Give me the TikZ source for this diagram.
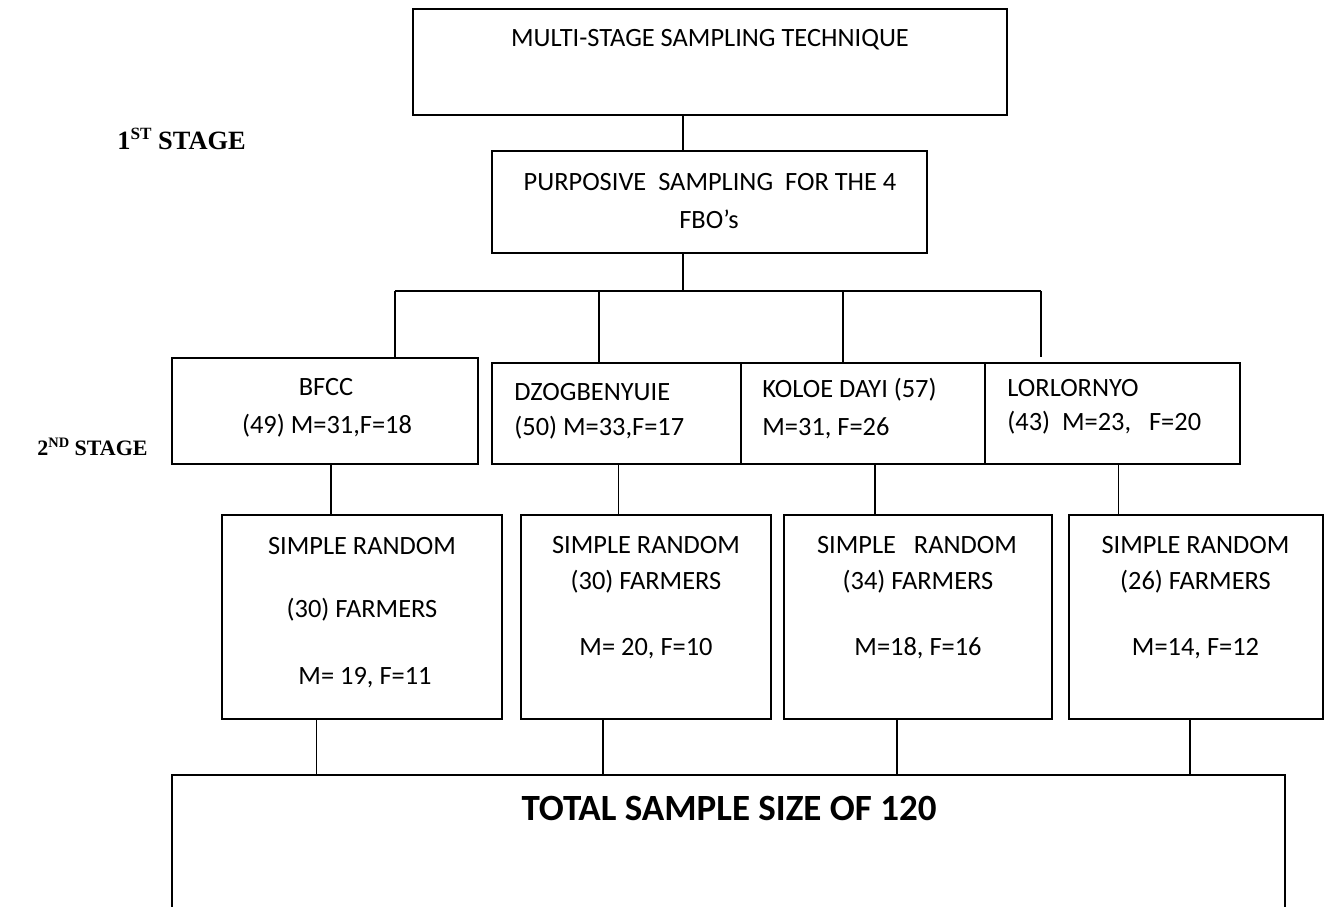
\documentclass[tikz,border=0pt]{standalone}
\usepackage{fontspec}
\setmainfont{Carlito}
\newfontfamily\stagefont{Liberation Serif}
\begin{document}
\begin{tikzpicture}[x=0.5pt, y=-0.5pt,
  box/.style={draw, line width=1pt, inner sep=0pt},
  link/.style={line width=0.75pt},
  lbl/.style={anchor=base, inner sep=0pt, font=\fontsize{13.2}{15.8}\selectfont},
  lft/.style={lbl, anchor=base west},
  stage/.style={anchor=base west, inner sep=0pt, font=\stagefont\bfseries\fontsize{13.2}{15.8}\selectfont}]
\useasboundingbox (0,0) rectangle (1327,906);
\clip (0,0) rectangle (1327,906);
\node[box, minimum width=297.25pt, minimum height=53pt] (tech) at (709.75,62) {};
\node[box, minimum width=217.5pt, minimum height=51pt] (purp) at (709.5,202) {};
\node[box, minimum width=152.8pt, minimum height=53pt] (bfcc) at (324.8,411) {};
\node[box, minimum width=124.5pt, minimum height=50.75pt] (dzog) at (616.5,413.25) {};
\node[box, minimum width=122pt, minimum height=50.75pt] (koloe) at (863,413.25) {};
\node[box, minimum width=127.5pt, minimum height=50.75pt] (lorl) at (1112.5,413.25) {};
\node[box, minimum width=139.65pt, minimum height=102pt] (sr1) at (362,617) {};
\node[box, minimum width=124.75pt, minimum height=102pt] (sr2) at (645.75,617) {};
\node[box, minimum width=134pt, minimum height=102pt] (sr3) at (918,617) {};
\node[box, minimum width=127.4pt, minimum height=102pt] (sr4) at (1196,617) {};
\node[box, minimum width=556.5pt, minimum height=112.5pt] (total) at (728.5,887.5) {};

\node[lbl] (t1) at (710,46) {MULTI-STAGE SAMPLING TECHNIQUE};
\node[lbl] (p1) at (710,190) {PURPOSIVE~ SAMPLING~ FOR THE 4};
\node[lbl] (p2) at (709,228) {FBO’s};
\node[lbl] (b1) at (326,395) {BFCC};
\node[lbl] (b2) at (327,433) {(49) M=31,F=18};
\node[lft] (d1) at (514,400) {DZOGBENYUIE};
\node[lft] (d2) at (514,435) {(50) M=33,F=17};
\node[lft] (k1) at (762,397) {KOLOE DAYI (57)};
\node[lft] (k2) at (762,435) {M=31, F=26};
\node[lft] (l1) at (1007,396) {LORLORNYO};
\node[lft] (l2) at (1007,430) {(43)~ M=23,~~ F=20};
\node[lbl] (s11) at (362,554) {SIMPLE RANDOM};
\node[lbl] (s12) at (362,617) {(30) FARMERS};
\node[lbl] (s13) at (365,684) {M= 19, F=11};
\node[lbl] (s21) at (646,553) {SIMPLE RANDOM};
\node[lbl] (s22) at (646,589) {(30) FARMERS};
\node[lbl] (s23) at (646,655) {M= 20, F=10};
\node[lbl] (s31) at (917,553) {SIMPLE~~ RANDOM};
\node[lbl] (s32) at (918,589) {(34) FARMERS};
\node[lbl] (s33) at (918,655) {M=18, F=16};
\node[lbl] (s41) at (1195.5,553) {SIMPLE RANDOM};
\node[lbl] (s42) at (1195.5,589) {(26) FARMERS};
\node[lbl] (s43) at (1195.5,655) {M=14, F=12};
\node[lbl, font=\bfseries\fontsize{18.5}{22}\selectfont] (tt) at (729,820) {TOTAL SAMPLE SIZE OF 120};
\node[stage] (st1) at (117,149) {1\raisebox{5pt}{\fontsize{8.6}{10}\selectfont ST} STAGE};
\node[stage, font=\stagefont\bfseries\fontsize{11}{13}\selectfont] (st2) at (37,455) {2\raisebox{4pt}{\fontsize{7.2}{9}\selectfont ND} STAGE};

\coordinate (hub) at (683,291);
\coordinate (j1) at (395,291);
\coordinate (j2) at (599,291);
\coordinate (j3) at (843,291);
\coordinate (j4) at (1041,291);
\draw[link] (tech.south -| hub) -- (purp.north -| hub);
\draw[link] (purp.south -| hub) -- (hub);
\draw[link] (j1) -- (j4);
\draw[link] (j1) -- (j1 |- bfcc.north);
\draw[link] (j2) -- (j2 |- dzog.north);
\draw[link] (j3) -- (j3 |- koloe.north);
\draw[link] (j4) -- (j4 |- bfcc.north);

\coordinate (c1) at (331,0);
\coordinate (c2) at (618.5,0);
\coordinate (c3) at (875,0);
\coordinate (c4) at (1118.5,0);
\draw[link] (bfcc.south -| c1) -- (sr1.north -| c1);
\draw[link] (dzog.south -| c2) -- (sr2.north -| c2);
\draw[link] (koloe.south -| c3) -- (sr3.north -| c3);
\draw[link] (lorl.south -| c4) -- (sr4.north -| c4);

\coordinate (e1) at (316.5,0);
\coordinate (e2) at (603,0);
\coordinate (e3) at (897,0);
\coordinate (e4) at (1190,0);
\draw[link] (sr1.south -| e1) -- (total.north -| e1);
\draw[link] (sr2.south -| e2) -- (total.north -| e2);
\draw[link] (sr3.south -| e3) -- (total.north -| e3);
\draw[link] (sr4.south -| e4) -- (total.north -| e4);
\end{tikzpicture}
\end{document}
